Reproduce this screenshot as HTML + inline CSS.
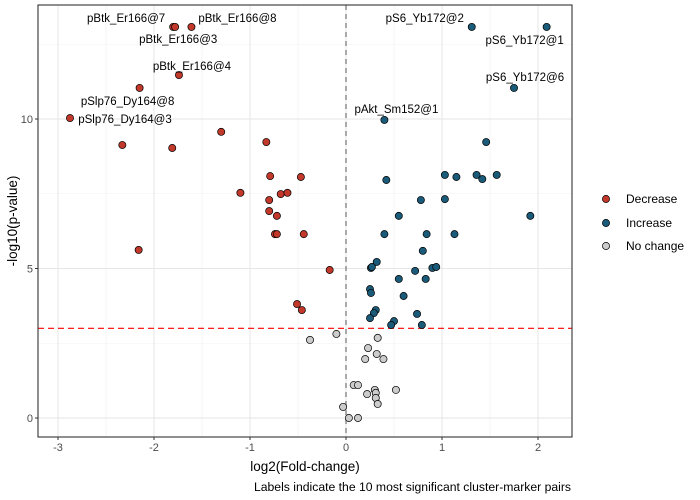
<!DOCTYPE html>
<html><head><meta charset="utf-8"><style>
body{margin:0;background:#fff;font-family:"Liberation Sans",Arial,sans-serif}
svg{display:block}
</style></head><body>
<svg id="chart" width="700" height="500" xmlns="http://www.w3.org/2000/svg"></svg>
<script>
const decX=[-2.875,-1.80,-1.78,-1.61,-1.74,-2.15,-2.33,-1.81,-1.30,-0.83,-0.79,-0.47,-1.10,-0.68,-0.61,-0.80,-0.80,-0.72,-0.74,-0.72,-0.44,-2.16,-0.17,-0.51,-0.46];
const decY=[10.03,13.08,13.08,13.08,11.47,11.04,9.13,9.03,9.57,9.23,8.09,8.06,7.53,7.49,7.53,7.29,6.92,6.76,6.15,6.15,6.15,5.62,4.95,3.81,3.61];
const incX=[1.31,2.09,1.75,0.40,1.46,0.42,1.03,1.15,1.36,1.42,1.57,0.78,1.03,0.55,1.92,0.40,0.84,1.13,0.80,0.32,0.26,0.27,0.72,0.90,0.94,0.55,0.83,0.25,0.26,0.60,0.31,0.29,0.25,0.74,0.50,0.47,0.79];
const incY=[13.08,13.08,11.04,9.97,9.23,7.96,8.13,8.06,8.13,7.99,8.13,7.29,7.32,6.76,6.76,6.15,6.15,6.15,5.59,5.22,5.02,5.05,4.92,5.02,5.05,4.65,4.65,4.31,4.18,4.08,3.61,3.51,3.34,3.48,3.24,3.11,3.11];
const ncX=[-0.375,-0.10,0.33,0.23,0.32,0.20,0.39,0.08,0.125,0.30,0.22,0.31,0.31,0.52,0.33,-0.03,0.03,0.125];
const ncY=[2.61,2.81,2.68,2.34,2.14,1.97,1.97,1.10,1.10,0.94,0.80,0.84,0.67,0.94,0.47,0.37,0.0,0.0];
const xTicks=[-3,-2,-1,0,1,2];
const yTicks=[0,5,10];
const threshold=3;
const labelText=["pBtk_Er166@7","pBtk_Er166@8","pBtk_Er166@3","pBtk_Er166@4","pSlp76_Dy164@8","pSlp76_Dy164@3","pS6_Yb172@2","pS6_Yb172@1","pS6_Yb172@6","pAkt_Sm152@1"];
const labelX=[-1.78,-1.61,-1.80,-1.74,-2.15,-2.875,1.31,2.09,1.75,0.40];
const labelY=[13.08,13.08,13.08,11.47,11.04,10.03,13.08,13.08,11.04,9.97];
const labelDx=[-49,46,5,13,-12,55,-47,-22,11,12];
const labelDy=[-9,-9,12,-9,13,1,-9,13,-11,-11];

const NS="http://www.w3.org/2000/svg";
const svg=document.getElementById('chart');
const L=38,R=572,T=5,B=437;
const xs=v=>346+v*96;
const ys=v=>418-v*29.9;
function mk(tag,attrs,parent){const e=document.createElementNS(NS,tag);for(const k in attrs)e.setAttribute(k,attrs[k]);(parent||svg).appendChild(e);return e;}
mk('rect',{x:L,y:T,width:R-L,height:B-T,fill:'#fff'});
for(let v=-3;v<=2.5;v+=1){const x=xs(v+0.5);if(x>L&&x<R)mk('line',{x1:x,x2:x,y1:T,y2:B,stroke:'#f0f0f0','stroke-width':0.6});}
[2.5,7.5,12.5].forEach(v=>mk('line',{x1:L,x2:R,y1:ys(v),y2:ys(v),stroke:'#f0f0f0','stroke-width':0.6}));
xTicks.forEach(v=>{mk('line',{x1:xs(v),x2:xs(v),y1:T,y2:B,stroke:'#e6e6e6','stroke-width':1.1});});
yTicks.forEach(v=>{mk('line',{x1:L,x2:R,y1:ys(v),y2:ys(v),stroke:'#e6e6e6','stroke-width':1.1});});
const vl=mk('line',{x1:xs(0),x2:xs(0),y1:T,y2:B,stroke:'#666','stroke-width':1.1,'stroke-dasharray':'5,4'});

const hl=mk('line',{x1:L,x2:R,y1:ys(threshold),y2:ys(threshold),stroke:'#ff0000','stroke-width':1.1,'stroke-dasharray':'6,4'});

function pts(X,Y,fill,name){const g=mk('g',{});
X.forEach((x,i)=>{const c=mk('circle',{cx:xs(x),cy:ys(Y[i]),r:3.6,fill:fill,stroke:'#000','stroke-width':0.7},g);

});}
pts(ncX,ncY,'#cccccc','no-change');
pts(decX,decY,'#c2392b','decrease');
pts(incX,incY,'#1b5b7a','increase');
labelText.forEach((t,i)=>{const e=mk('text',{x:xs(labelX[i])+labelDx[i],y:ys(labelY[i])+labelDy[i]+4,'text-anchor':'middle','font-size':11.5,fill:'#000'});e.textContent=t;

});
mk('rect',{x:L,y:T,width:R-L,height:B-T,fill:'none',stroke:'#333','stroke-width':1.1});
xTicks.forEach(v=>{mk('line',{x1:xs(v),x2:xs(v),y1:B,y2:B+3,stroke:'#333'});const t=mk('text',{x:xs(v),y:B+14,'text-anchor':'middle','font-size':11,fill:'#4d4d4d'});t.textContent=v;

});
yTicks.forEach(v=>{mk('line',{x1:L-3,x2:L,y1:ys(v),y2:ys(v),stroke:'#333'});const t=mk('text',{x:L-5,y:ys(v)+4,'text-anchor':'end','font-size':11,fill:'#4d4d4d'});t.textContent=v;

});
</script>
<svg width="700" height="500" style="position:absolute;left:0;top:0" xmlns="http://www.w3.org/2000/svg">
<text x="305" y="471" text-anchor="middle" font-size="13.5">log2(Fold-change)</text>
<text transform="translate(17,221) rotate(-90)" text-anchor="middle" font-size="13.5">-log10(p-value)</text>
<text x="571" y="491" text-anchor="end" font-size="12.2">Labels indicate the 10 most significant cluster-marker pairs</text>
<g>
<g><circle cx="606" cy="199" r="3.6" fill="#c2392b" stroke="#000" stroke-width="0.7"/><text x="626" y="203" font-size="12">Decrease</text></g>
<g><circle cx="606" cy="223" r="3.6" fill="#1b5b7a" stroke="#000" stroke-width="0.7"/><text x="626" y="227" font-size="12">Increase</text></g>
<g><circle cx="606" cy="246" r="3.6" fill="#cccccc" stroke="#000" stroke-width="0.7"/><text x="626" y="250" font-size="12">No change</text></g>
</g>
</svg>
</body></html>
